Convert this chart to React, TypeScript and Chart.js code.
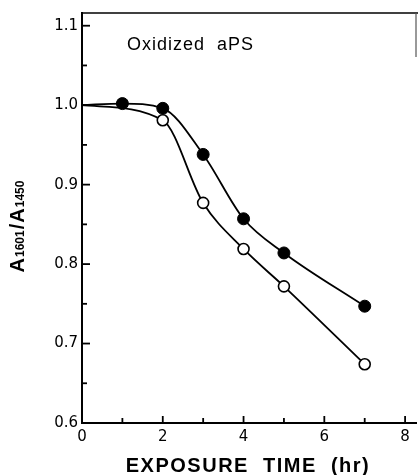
import React, { useEffect, useRef } from "react";
import { Chart, registerables } from "chart.js";

Chart.register(...registerables);

const filledX = [0, 1, 2, 3, 4, 5, 7];
const filledY = [1.0, 1.002, 0.996, 0.938, 0.857, 0.814, 0.747];
const openX = [0, 2, 3, 4, 5, 7];
const openY = [1.0, 0.981, 0.877, 0.819, 0.772, 0.674];
const yTickValues = [0.6, 0.65, 0.7, 0.75, 0.8, 0.85, 0.9, 0.95, 1.0, 1.05, 1.1];
const xTickValues = [0, 1, 2, 3, 4, 5, 6, 7, 8];
const annotationText = "Oxidized  aPS";
const xTitle = "EXPOSURE  TIME  (hr)";

const isMajorY = (v: number) => Math.abs(Math.round(v * 10) - v * 10) < 1e-6;

const decorPlugin = {
  id: "decor",
  afterDraw(chart: any) {
    const ctx = chart.ctx as CanvasRenderingContext2D;
    const { left, right, top, bottom } = chart.chartArea;
    const xs = chart.scales.x;
    const ys = chart.scales.y;
    ctx.save();
    ctx.strokeStyle = "#000";
    ctx.lineWidth = 1.8;
    // inward ticks
    for (const v of yTickValues) {
      const py = ys.getPixelForValue(v);
      const len = isMajorY(v) ? 8 : 5;
      ctx.beginPath();
      ctx.moveTo(left, py);
      ctx.lineTo(left + len, py);
      ctx.stroke();
    }
    for (const v of xTickValues) {
      const px = xs.getPixelForValue(v);
      const len = v % 2 === 0 ? 7 : 5;
      ctx.beginPath();
      ctx.moveTo(px, bottom);
      ctx.lineTo(px, bottom - len);
      ctx.stroke();
    }
    // top border
    ctx.lineWidth = 1.6;
    ctx.beginPath();
    ctx.moveTo(left, top);
    ctx.lineTo(right + 2, top);
    ctx.stroke();
    // partial right border
    ctx.strokeStyle = "#555";
    ctx.lineWidth = 1.2;
    ctx.beginPath();
    ctx.moveTo(right, top);
    ctx.lineTo(right, top + 44);
    ctx.stroke();

    ctx.fillStyle = "#000";
    // annotation
    (ctx as any).letterSpacing = "1px";
    ctx.font = '18px "Liberation Sans", Arial, sans-serif';
    ctx.textAlign = "left";
    ctx.textBaseline = "alphabetic";
    ctx.fillText(annotationText, 127, 50);

    // x title
    (ctx as any).letterSpacing = "1.5px";
    ctx.font = 'bold 20px "Liberation Sans", Arial, sans-serif';
    ctx.textAlign = "center";
    ctx.fillText(xTitle, 248, 472);
    (ctx as any).letterSpacing = "0px";

    // y title with subscripts, rotated
    ctx.translate(24, 226);
    ctx.rotate(-Math.PI / 2);
    const big = 'bold 20px "Liberation Sans", Arial, sans-serif';
    const small = 'bold 12px "Liberation Sans", Arial, sans-serif';
    const parts: [string, string][] = [
      ["A", big],
      ["1601", small],
      ["/", big],
      ["A", big],
      ["1450", small],
    ];
    let total = 0;
    for (const [t, f] of parts) {
      ctx.font = f;
      total += ctx.measureText(t).width + 1;
    }
    let cx = -total / 2;
    ctx.textAlign = "left";
    for (const [t, f] of parts) {
      ctx.font = f;
      ctx.fillText(t, cx, 0);
      cx += ctx.measureText(t).width + 1;
    }
    ctx.restore();
  },
};

export default function App() {
  const ref = useRef<HTMLCanvasElement>(null);
  useEffect(() => {
    document.body.style.margin = "0";
    const canvas = ref.current!;
    const chart = new Chart(canvas, {
      type: "scatter",
      data: {
        datasets: [
          {
            label: "open",
            data: openX.map((x, i) => ({ x, y: openY[i] })),
            showLine: true,
            borderColor: "#000",
            borderWidth: 1.8,
            cubicInterpolationMode: "monotone",
            pointRadius: (c: any) => (c.raw && c.raw.x === 0 ? 0 : 5.5),
            pointBackgroundColor: "#fff",
            pointBorderColor: "#000",
            pointBorderWidth: 1.6,
          },
          {
            label: "filled",
            data: filledX.map((x, i) => ({ x, y: filledY[i] })),
            showLine: true,
            borderColor: "#000",
            borderWidth: 1.8,
            cubicInterpolationMode: "monotone",
            pointRadius: (c: any) => (c.raw && c.raw.x === 0 ? 0 : 6),
            pointBackgroundColor: "#000",
            pointBorderColor: "#000",
            pointBorderWidth: 1,
          },
        ],
      },
      options: {
        animation: false,
        responsive: false,
        maintainAspectRatio: false,
        layout: { autoPadding: false, padding: { top: 13, right: 2, left: 0, bottom: 0 } },
        plugins: { legend: { display: false }, tooltip: { enabled: false } },
        scales: {
          x: {
            type: "linear",
            min: 0,
            max: 8.27,
            afterBuildTicks: (s: any) => {
              s.ticks = xTickValues.map((v) => ({ value: v }));
            },
            afterFit: (s: any) => {
              s.height = 52;
            },
            grid: { display: false, drawTicks: false },
            border: { display: true, color: "#000", width: 2 },
            ticks: {
              color: "#000",
              padding: 5,
              maxRotation: 0,
              autoSkip: false,
              font: { family: '"DejaVu Sans", sans-serif', size: 15 },
              callback: (v: any) => (Number(v) % 2 === 0 ? String(v) : ""),
            },
          },
          y: {
            type: "linear",
            min: 0.6,
            max: 1.116,
            afterBuildTicks: (s: any) => {
              s.ticks = yTickValues.map((v) => ({ value: v }));
            },
            afterFit: (s: any) => {
              s.width = 82;
            },
            grid: { display: false, drawTicks: false },
            border: { display: true, color: "#000", width: 2 },
            ticks: {
              color: "#000",
              padding: 4,
              autoSkip: false,
              font: { family: '"DejaVu Sans", sans-serif', size: 15 },
              callback: (v: any) => (isMajorY(Number(v)) ? Number(v).toFixed(1) : ""),
            },
          },
        },
      },
      plugins: [decorPlugin],
    } as any);
    return () => chart.destroy();
  }, []);
  return (
    <div style={{ width: 418, height: 475 }}>
      <canvas ref={ref} width={418} height={475} style={{ display: "block" }} />
    </div>
  );
}
